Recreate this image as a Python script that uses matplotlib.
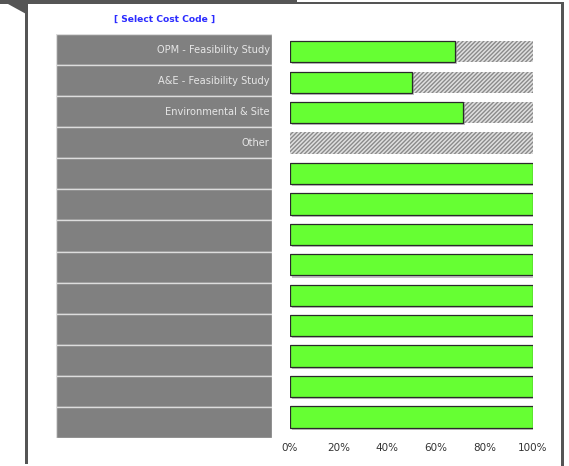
import matplotlib
matplotlib.use('Agg')
import matplotlib.pyplot as plt
import matplotlib.patheffects as pe
from matplotlib.patches import Polygon, Rectangle

# data
labels = ['OPM - Feasibility Study', 'A&E - Feasibility Study', 'Environmental & Site', 'Other',
          '', '', '', '', '', '', '', '', '']
values = [0.68, 0.50, 0.71, 0.0, 1, 1, 1, 1, 1, 1, 1, 1, 1]
background = [1, 1, 1, 1, 0, 0, 0, 0, 0, 0, 0, 0, 0]
ticks = [0, 0.2, 0.4, 0.6, 0.8, 1.0]
tick_labels = ['0%', '20%', '40%', '60%', '80%', '100%']
title = '[ Select Cost Code ]'

plt.rcParams['hatch.linewidth'] = 1.0

W, H = 569, 466
fig = plt.figure(figsize=(W / 100, H / 100), dpi=100)
fig.patch.set_facecolor('white')

def box(l, t, r, b):
    return [l / W, 1 - b / H, (r - l) / W, (b - t) / H]

# frame decoration
bg = fig.add_axes([0, 0, 1, 1], zorder=0)
bg.set_xlim(0, W)
bg.set_ylim(H, 0)
bg.axis('off')
dark = '#555555'
bg.add_patch(Polygon([(0, 0), (297, 0), (297, 4), (28, 4), (28, 15), (8, 4), (0, 4)],
                     closed=True, color=dark, lw=0))
bg.add_patch(Rectangle((25.5, 4), 2.2, 460, color=dark, lw=0))
bg.add_patch(Rectangle((297, 2), 266.5, 2, color=dark, lw=0))
bg.add_patch(Rectangle((561.5, 2), 2.2, 464, color=dark, lw=0))
bg.text(165, 19, title, color='#2b2bff', fontsize=6.6, fontweight='bold',
        ha='center', va='center')

# label table
n = len(labels)
tab = fig.add_axes(box(56, 34, 272, 438), zorder=1)
tab.set_xlim(0, 1)
tab.set_ylim(n, 0)
tab.axis('off')
for i, lab in enumerate(labels):
    tab.add_patch(Rectangle((0, i), 1, 1, facecolor='#808080', edgecolor='#dddddd', lw=1.0))
    tab.text(0.99, i + 0.5, lab, color='#e6e6e6', fontsize=7.1, ha='right', va='center')

# bars
ax = fig.add_axes(box(290, 36.5, 533, 432.2), zorder=2)
ax.set_facecolor('none')
y = list(range(n))
ax.barh(y, background, height=0.7, left=0, facecolor='#e0e0e0', edgecolor='#8a8a8a',
        hatch='////////', lw=0)
bars = ax.barh(y, values, height=0.7, color='#66ff33', edgecolor='#2a2a2a', lw=0.9)
for b, v in zip(bars, values):
    if v <= 0:
        b.set_visible(False)
        continue
    b.set_path_effects([pe.SimplePatchShadow(offset=(1.5, -1.5), shadow_rgbFace='#999999', alpha=0.6),
                        pe.Normal()])
ax.set_xlim(0, 1)
ax.set_ylim(n - 0.5, -0.5)
ax.set_xticks(ticks)
ax.set_xticklabels(tick_labels, color='#333333', fontsize=7.5)
ax.set_yticks([])
ax.tick_params(axis='x', length=0, pad=8)
for s in ax.spines.values():
    s.set_visible(False)

fig.savefig('out.png', dpi=100)
